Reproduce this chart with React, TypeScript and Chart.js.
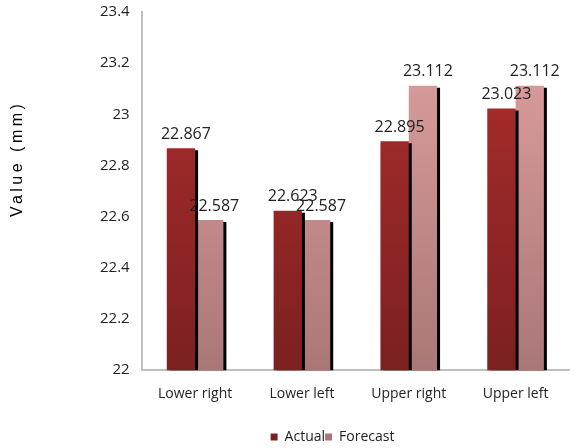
import React, { useEffect, useRef } from "react";
import { Chart, registerables } from "chart.js";

Chart.register(...registerables);

const categories = ["Lower right", "Lower left", "Upper right", "Upper left"];
const actualValues = [22.867, 22.623, 22.895, 23.023];
const forecastValues = [22.587, 22.587, 23.112, 23.112];
const seriesNames = ["Actual", "Forecast"];
const yMin = 22;
const yMax = 23.4;
const yStep = 0.2;
const yTitle = "Value (mm)";

const FONT = "'Open Sans', 'Noto Sans', sans-serif";

function makeGradient(chart: any, top: string, bottom: string) {
  const area = chart.chartArea;
  if (!area) return top;
  const g = chart.ctx.createLinearGradient(0, area.top, 0, area.bottom);
  g.addColorStop(0, top);
  g.addColorStop(1, bottom);
  return g;
}

const shadowPlugin = {
  id: "barShadow",
  beforeDatasetDraw(chart: any) {
    const ctx = chart.ctx;
    ctx.save();
    ctx.shadowColor = "#000000";
    ctx.shadowOffsetX = 3;
    ctx.shadowOffsetY = 2;
    ctx.shadowBlur = 0;
  },
  afterDatasetDraw(chart: any) {
    chart.ctx.restore();
  },
};

const labelPlugin = {
  id: "valueLabels",
  afterDatasetsDraw(chart: any) {
    const ctx = chart.ctx;
    ctx.save();
    ctx.font = `16px ${FONT}`;
    ctx.fillStyle = "#222222";
    ctx.textAlign = "center";
    ctx.textBaseline = "bottom";
    chart.data.datasets.forEach((ds: any, di: number) => {
      const meta = chart.getDatasetMeta(di);
      meta.data.forEach((bar: any, i: number) => {
        ctx.fillText(String(ds.data[i]), bar.x + 5, bar.y - 6);
      });
    });
    ctx.restore();
  },
};

const titlePlugin = {
  id: "yTitle",
  afterDraw(chart: any) {
    const ctx = chart.ctx;
    const area = chart.chartArea;
    ctx.save();
    ctx.font = `16px 'Liberation Sans', Arial, sans-serif`;
    try {
      (ctx as any).letterSpacing = "3.5px";
    } catch (e) {}
    ctx.fillStyle = "#000000";
    ctx.textAlign = "center";
    ctx.textBaseline = "middle";
    const y = area.top + (area.bottom - area.top) * 0.41;
    ctx.translate(18, y);
    ctx.rotate(-Math.PI / 2);
    ctx.fillText(yTitle, 0, 0);
    ctx.restore();
  },
};

export default function App() {
  const ref = useRef<HTMLCanvasElement>(null);

  useEffect(() => {
    if (!ref.current) return;
    const chart = new Chart(ref.current, {
      type: "bar",
      data: {
        labels: categories,
        datasets: [
          {
            label: seriesNames[0],
            data: actualValues,
            backgroundColor: (c: any) => makeGradient(c.chart, "#b02e2e", "#7c2020"),
            borderWidth: 0,
          },
          {
            label: seriesNames[1],
            data: forecastValues,
            backgroundColor: (c: any) => makeGradient(c.chart, "#e2a2a2", "#aa7777"),
            borderWidth: 0,
          },
        ],
      },
      options: {
        responsive: false,
        maintainAspectRatio: false,
        animation: false,
        categoryPercentage: 0.53,
        barPercentage: 1.0,
        layout: { padding: { left: 96, right: 7, top: 0, bottom: 0 } },
        plugins: {
          legend: {
            position: "bottom",
            labels: {
              boxWidth: 7,
              boxHeight: 7,
              padding: 0,
              font: { family: FONT, size: 14 },
              color: "#222222",
            },
          },
          tooltip: { enabled: false },
        },
        scales: {
          x: {
            grid: { display: false },
            border: { display: true, color: "#bfbfbf", width: 2 },
            ticks: { font: { family: FONT, size: 14 }, color: "#222222", padding: 7 },
            afterFit: (s: any) => {
              s.height += 21;
            },
          },
          y: {
            min: yMin,
            max: yMax,
            grid: { display: false },
            border: { display: true, color: "#bfbfbf", width: 2 },
            ticks: {
              stepSize: yStep,
              font: { family: FONT, size: 15 },
              color: "#222222",
              padding: 4,
              callback: (v: any) => String(Math.round(Number(v) * 10) / 10),
            },
          },
        },
      },
      plugins: [shadowPlugin, labelPlugin, titlePlugin],
    });
    return () => chart.destroy();
  }, []);

  return (
    <div style={{ position: "fixed", left: 0, top: -1, width: 576, height: 449, overflow: "hidden" }}>
      <canvas ref={ref} width={576} height={455} style={{ width: 576, height: 455, display: "block" }} />
    </div>
  );
}
